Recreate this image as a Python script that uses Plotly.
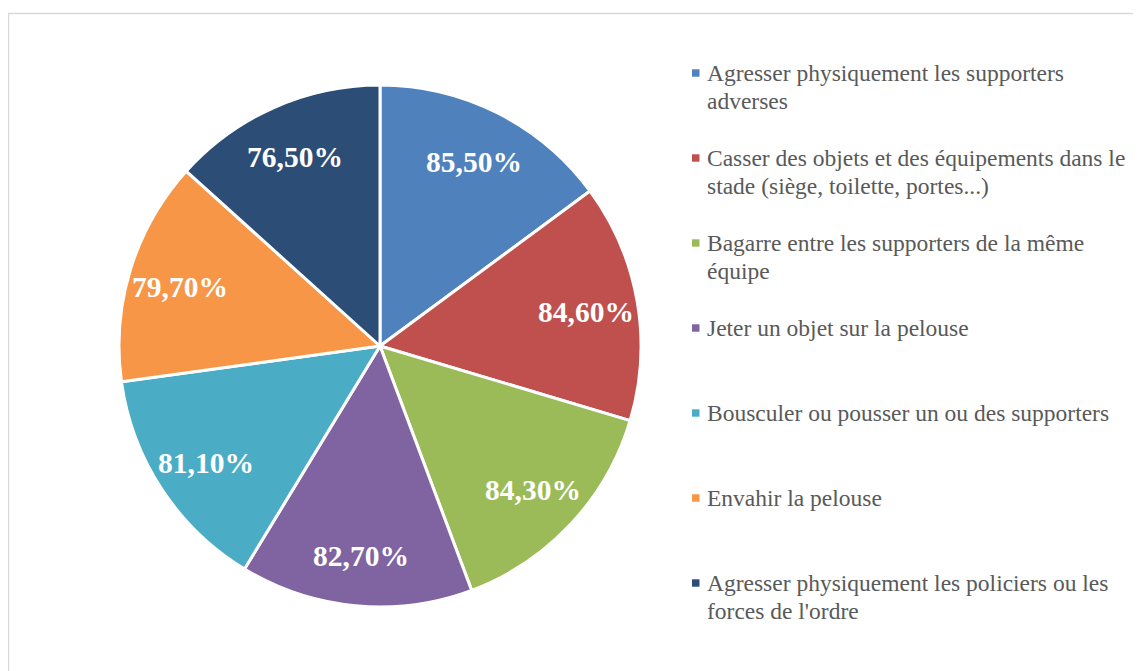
import math
import plotly.graph_objects as go

categories = [
    "Agresser physiquement les supporters<br>adverses",
    "Casser des objets et des équipements dans le<br>stade (siège, toilette, portes...)",
    "Bagarre entre les supporters de la même<br>équipe",
    "Jeter un objet sur la pelouse",
    "Bousculer ou pousser un ou des supporters",
    "Envahir la pelouse",
    "Agresser physiquement les policiers ou les<br>forces de l'ordre",
]
values = [85.5, 84.6, 84.3, 82.7, 81.1, 79.7, 76.5]
colors = ["#4F81BD", "#C0504D", "#9BBB59", "#8064A2", "#4BACC6", "#F79646", "#2C4D75"]

labels_txt = [f"{v:.2f}".replace(".", ",") + "%" for v in values]

W, H = 1141, 671
OFF = 8  # page body margin
cx, cy, r = 380 - OFF, 346 - OFF, 261


def px(x):
    return x / W


def py(y):
    return 1 - y / H


fig = go.Figure()
fig.add_trace(go.Pie(
    labels=[c.replace("<br>", " ") for c in categories],
    values=values,
    text=labels_txt,
    textinfo="none",
    marker=dict(colors=colors, line=dict(color="white", width=3)),
    sort=False,
    direction="clockwise",
    rotation=0,
    showlegend=False,
    domain=dict(x=[px(cx - r), px(cx + r)], y=[py(cy + r), py(cy - r)]),
    hoverinfo="label+text",
))

annotations = []
shapes = []

# data labels placed at each slice's mid-angle
total = sum(values)
cum = 0.0
label_rf = 0.8
for v, t in zip(values, labels_txt):
    mid = (cum + v / 2) / total * 2 * math.pi
    cum += v
    lx = cx + label_rf * r * math.sin(mid)
    ly = cy - label_rf * r * math.cos(mid) + 2
    annotations.append(dict(
        x=px(lx), y=py(ly), xref="paper", yref="paper",
        xanchor="center", yanchor="middle", text=t, showarrow=False,
        font=dict(family="Liberation Serif", size=29.5, color="white", weight="bold"),
    ))

# legend
leg_x = 705 - OFF
leg_y0 = 73 - OFF
leg_step = 85
line_h = 28
for i, (cat, col) in enumerate(zip(categories, colors)):
    yc = leg_y0 + i * leg_step
    for j, line in enumerate(cat.split("<br>")):
        annotations.append(dict(
            x=px(leg_x), y=py(yc + j * line_h), xref="paper", yref="paper",
            xanchor="left", yanchor="middle", align="left",
            text=line, showarrow=False,
            font=dict(family="Liberation Serif", size=23.5, color="#595959"),
        ))
    shapes.append(dict(
        type="rect", xref="paper", yref="paper",
        x0=px(692 - OFF), x1=px(699.5 - OFF), y0=py(yc + 3.7), y1=py(yc - 3.7),
        fillcolor=col, line=dict(width=0),
    ))

shapes.append(dict(
    type="rect", xref="paper", yref="paper",
    x0=px(8.5 - OFF), x1=1.02, y0=-0.02, y1=py(13.5 - OFF),
    line=dict(color="#D9D9D9", width=1.5), fillcolor="rgba(0,0,0,0)", layer="below",
))

fig.update_layout(
    width=W, height=H,
    margin=dict(l=0, r=0, t=0, b=0),
    paper_bgcolor="white", plot_bgcolor="white",
    annotations=annotations, shapes=shapes,
    showlegend=False,
)

fig.write_html("out.html")
